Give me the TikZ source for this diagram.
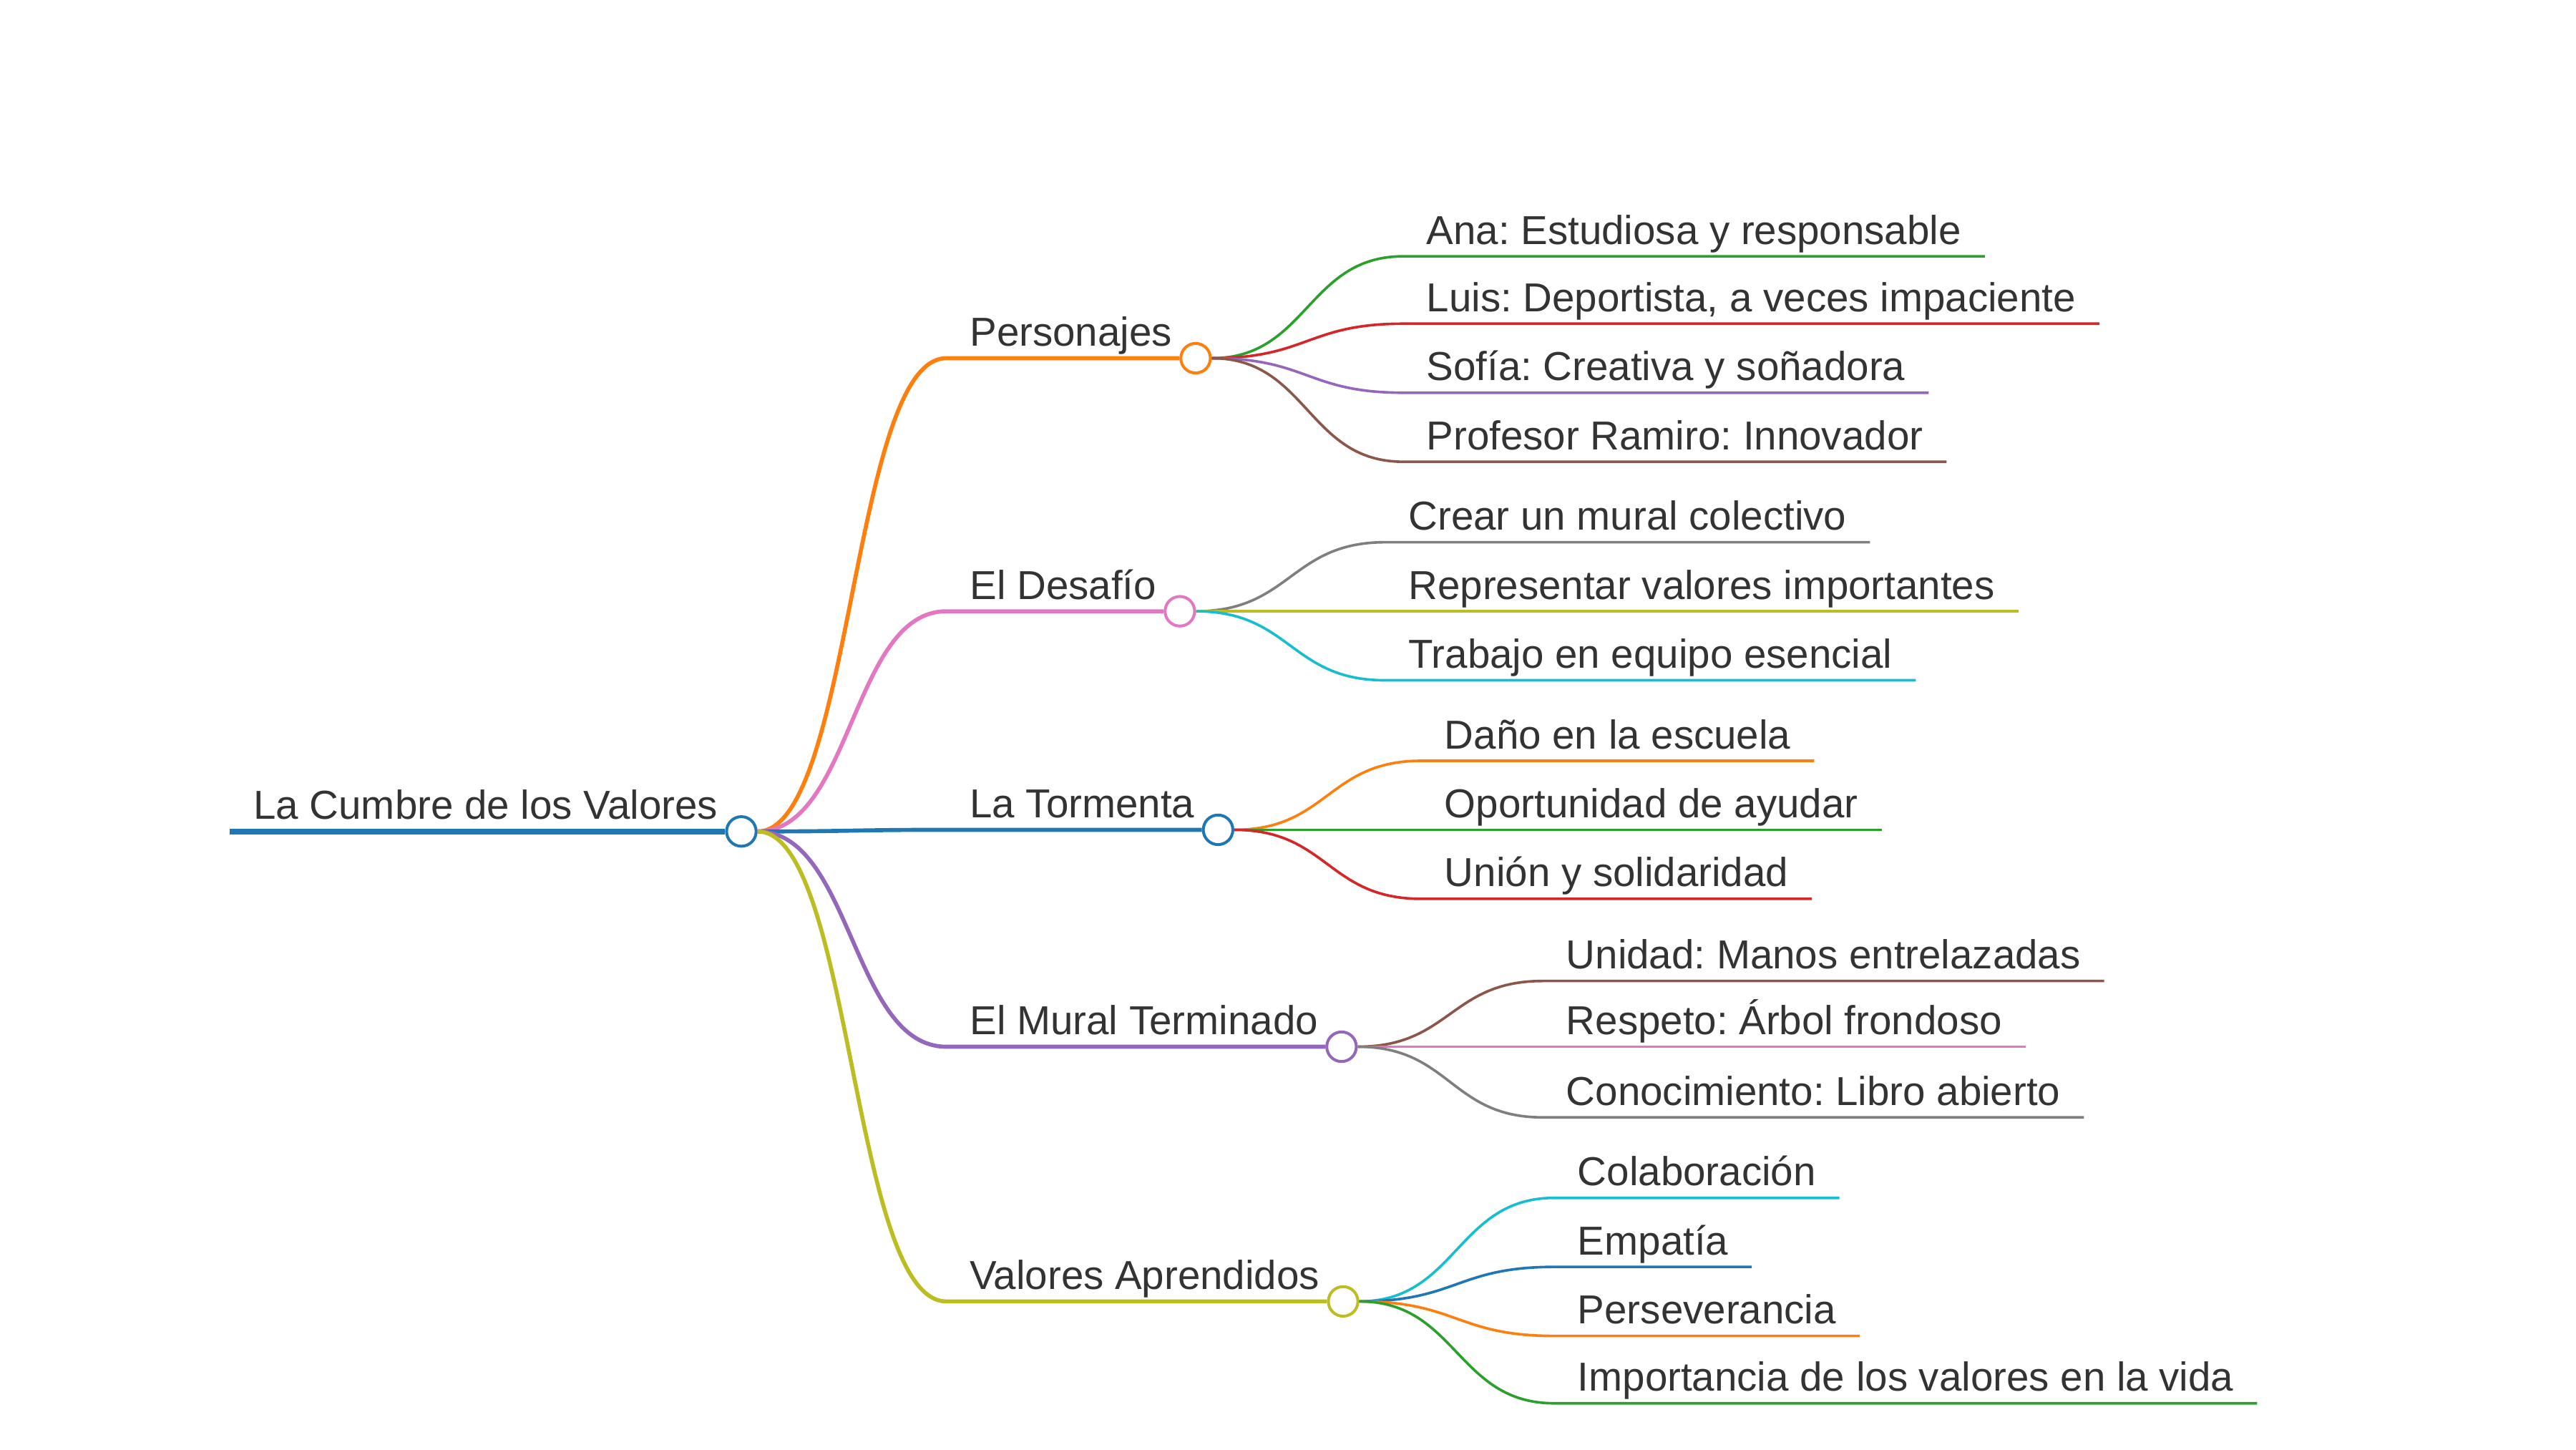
\documentclass[tikz,border=0pt]{standalone}
\usepackage{fontspec}
\setmainfont{Liberation Sans}
\usetikzlibrary{calc}
\frenchspacing

\definecolor{txt}{HTML}{333333}
\definecolor{cblue}{HTML}{1F77B4}
\definecolor{corange}{HTML}{FF7F0E}
\definecolor{cgreen}{HTML}{2CA02C}
\definecolor{cred}{HTML}{D62728}
\definecolor{cpurple}{HTML}{9467BD}
\definecolor{cbrown}{HTML}{8C564B}
\definecolor{cpink}{HTML}{E377C2}
\definecolor{cgray}{HTML}{7F7F7F}
\definecolor{colive}{HTML}{BCBD22}
\definecolor{ccyan}{HTML}{17BECF}

\tikzset{
  topic/.style={anchor=south west, inner xsep=0.28cm, inner ysep=0pt, text depth=4pt,
    text=txt, font=\fontsize{14}{16}\selectfont},
  knob/.style={circle, draw=#1, fill=white, line width=1pt, minimum size=0.36cm, inner sep=0pt},
  trunk/.style={line width=2pt},
  bough/.style={line width=1.4pt},
  twig/.style={line width=0.9pt},
  branch/.style={to path={let \p1=(\tikztostart), \p2=(\tikztotarget) in
    .. controls ({(\x1+\x2)/2},\y1) and ({(\x1+\x2)/2},\y2) .. (\tikztotarget)}}
}

\begin{document}
\begin{tikzpicture}[x=0.02cm, y=-0.02cm]
  \useasboundingbox (0,0) rectangle (1568,882);

  % Root
  \node[topic] (root) at (140,506) {La Cumbre de los Valores};
  \node[knob=cblue] (k0) at (root.south east) {};
  \draw[trunk, cblue] (root.south west) -- (k0.west);

  % First level
  \node[topic] (pers) at (576,218) {Personajes};
  \node[topic] (desa) at (576,372) {El Desafío};
  \node[topic] (torm) at (576,505) {La Tormenta};
  \node[topic] (mura) at (576,637) {El Mural Terminado};
  \node[topic] (valo) at (576,792) {Valores Aprendidos};
  \node[knob=corange] (k1) at (pers.south east) {};
  \node[knob=cpink]   (k2) at (desa.south east) {};
  \node[knob=cblue]   (k3) at (torm.south east) {};
  \node[knob=cpurple] (k4) at (mura.south east) {};
  \node[knob=colive]  (k5) at (valo.south east) {};
  \draw[bough, corange] (k0.east) to[branch] (pers.south west) -- (k1.west);
  \draw[bough, cpink]   (k0.east) to[branch] (desa.south west) -- (k2.west);
  \draw[bough, cblue]   (k0.east) to[branch] (torm.south west) -- (k3.west);
  \draw[bough, cpurple] (k0.east) to[branch] (mura.south west) -- (k4.west);
  \draw[bough, colive]  (k0.east) to[branch] (valo.south west) -- (k5.west);

  % Personajes
  \node[topic] (ana)  at (854,156) {Ana: Estudiosa y responsable};
  \node[topic] (luis) at (854,197) {Luis: Deportista, a veces impaciente};
  \node[topic] (sofi) at (854,239) {Sofía: Creativa y soñadora};
  \node[topic] (prof) at (854,281) {Profesor Ramiro: Innovador};
  \draw[twig, cgreen]  (k1.east) to[branch] (ana.south west) -- (ana.south east);
  \draw[twig, cred]    (k1.east) to[branch] (luis.south west) -- (luis.south east);
  \draw[twig, cpurple] (k1.east) to[branch] (sofi.south west) -- (sofi.south east);
  \draw[twig, cbrown]  (k1.east) to[branch] (prof.south west) -- (prof.south east);

  % El Desafio
  \node[topic] (crea) at (843,330) {Crear un mural colectivo};
  \node[topic] (repr) at (843,372) {Representar valores importantes};
  \node[topic] (trab) at (843,414) {Trabajo en equipo esencial};
  \draw[twig, cgray]  (k2.east) to[branch] (crea.south west) -- (crea.south east);
  \draw[twig, colive] (k2.east) to[branch] (repr.south west) -- (repr.south east);
  \draw[twig, ccyan]  (k2.east) to[branch] (trab.south west) -- (trab.south east);

  % La Tormenta
  \node[topic] (dano) at (865,463) {Daño en la escuela};
  \node[topic] (opor) at (865,505) {Oportunidad de ayudar};
  \node[topic] (unio) at (865,547) {Unión y solidaridad};
  \draw[twig, corange] (k3.east) to[branch] (dano.south west) -- (dano.south east);
  \draw[twig, cgreen]  (k3.east) to[branch] (opor.south west) -- (opor.south east);
  \draw[twig, cred]    (k3.east) to[branch] (unio.south west) -- (unio.south east);

  % El Mural Terminado
  \node[topic] (unid) at (939,597) {Unidad: Manos entrelazadas};
  \node[topic] (resp) at (939,637) {Respeto: Árbol frondoso};
  \node[topic] (cono) at (939,680) {Conocimiento: Libro abierto};
  \draw[twig, cbrown] (k4.east) to[branch] (unid.south west) -- (unid.south east);
  \draw[twig, cpink]  (k4.east) to[branch] (resp.south west) -- (resp.south east);
  \draw[twig, cgray]  (k4.east) to[branch] (cono.south west) -- (cono.south east);

  % Valores Aprendidos
  \node[topic] (cola) at (946,729) {Colaboración};
  \node[topic] (empa) at (946,771) {Empatía};
  \node[topic] (pers2) at (946,813) {Perseverancia};
  \node[topic] (impo) at (946,854) {Importancia de los valores en la vida};
  \draw[twig, ccyan]   (k5.east) to[branch] (cola.south west) -- (cola.south east);
  \draw[twig, cblue]   (k5.east) to[branch] (empa.south west) -- (empa.south east);
  \draw[twig, corange] (k5.east) to[branch] (pers2.south west) -- (pers2.south east);
  \draw[twig, cgreen]  (k5.east) to[branch] (impo.south west) -- (impo.south east);
\end{tikzpicture}
\end{document}
